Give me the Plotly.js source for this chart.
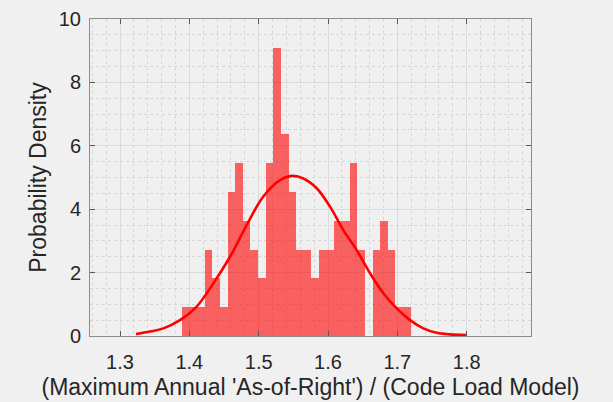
<!DOCTYPE html>
<html>
<head>
<meta charset="utf-8">
<script src="https://cdn.plot.ly/plotly-3.0.1.min.js"></script>
<style>html,body{margin:0;padding:0;background:#f0f0f0;}#chart{width:613px;height:402px;}</style>
</head>
<body>
<div id="chart"></div>
<script>
// Histogram: bin layout and counts (N = 100 samples, 30 bins)
var binStart = 1.389;
var binWidth = 0.01101;
var binCounts = [1, 1, 1, 3, 2, 1, 5, 6, 4, 3, 2, 6, 10, 7, 5, 3, 3, 2, 3, 3, 4, 4, 6, 3, 0, 3, 4, 3, 1, 1];
var sampleCount = 100;

// Fitted density curve
var curveX = [1.3231, 1.3433, 1.3625, 1.3865, 1.4106, 1.4346, 1.4587, 1.4827, 1.5067, 1.5308, 1.5476, 1.5644, 1.5837, 1.6029, 1.6221, 1.6413, 1.6606, 1.6798, 1.6991, 1.7183, 1.7375, 1.7567, 1.7760, 1.7990];
var curveY = [0.06, 0.14, 0.24, 0.50, 0.93, 1.66, 2.50, 3.50, 4.40, 4.92, 5.05, 4.97, 4.66, 4.08, 3.34, 2.71, 1.98, 1.35, 0.87, 0.50, 0.24, 0.10, 0.05, 0.03];

var xTickVals = [1.3, 1.4, 1.5, 1.6, 1.7, 1.8];
var xTickText = ['1.3', '1.4', '1.5', '1.6', '1.7', '1.8'];
var yTickVals = [0, 2, 4, 6, 8, 10];
var yTickText = ['0', '2', '4', '6', '8', '10'];

var binCenters = binCounts.map(function (c, i) { return binStart + binWidth * (i + 0.5); });
var densities = binCounts.map(function (c) { return c / (sampleCount * binWidth); });

var bars = {
  type: 'bar',
  x: binCenters,
  y: densities,
  width: binWidth,
  marker: {color: 'rgba(255,0,0,0.6)', line: {width: 0}},
  hoverinfo: 'x+y',
  showlegend: false
};
var curve = {
  type: 'scatter',
  mode: 'lines',
  x: curveX,
  y: curveY,
  line: {color: '#ff0000', width: 2.6, shape: 'spline', smoothing: 1},
  showlegend: false
};

var fontFam = 'Liberation Sans, Arial, Helvetica, sans-serif';
var axisCommon = {
  showline: true,
  linecolor: '#8c8c8c',
  linewidth: 1,
  mirror: 'ticks',
  ticks: 'inside',
  ticklen: 5,
  tickcolor: '#5a5a5a',
  tickwidth: 1,
  showgrid: true,
  gridcolor: '#dadada',
  gridwidth: 1,
  zeroline: false,
  tickfont: {family: fontFam, size: 20, color: '#262626'}
};

var layout = {
  width: 613,
  height: 402,
  paper_bgcolor: '#f0f0f0',
  plot_bgcolor: '#f0f0f0',
  margin: {l: 90, r: 82, t: 19, b: 66},
  bargap: 0,
  xaxis: Object.assign({}, axisCommon, {
    range: [1.2567, 1.8928],
    tickvals: xTickVals,
    ticktext: xTickText,
    ticklabelstandoff: 8,
    minor: {dtick: 0.02, tick0: 1.3, showgrid: true, gridcolor: '#d6d6d6', griddash: 'dot', gridwidth: 1, ticks: ''},
    title: {text: "(Maximum Annual 'As-of-Right') / (Code Load Model)", font: {family: fontFam, size: 23, color: '#262626'}, standoff: 6}
  }),
  yaxis: Object.assign({}, axisCommon, {
    range: [0, 10],
    tickvals: yTickVals,
    ticktext: yTickText,
    ticklabelstandoff: 4,
    minor: {dtick: 0.5, tick0: 0, showgrid: true, gridcolor: '#d6d6d6', griddash: 'dot', gridwidth: 1, ticks: ''},
    title: {text: 'Probability Density', font: {family: fontFam, size: 23, color: '#262626'}, standoff: 5}
  })
};

Plotly.newPlot('chart', [bars, curve], layout, {displayModeBar: false, staticPlot: true});
</script>
</body>
</html>
